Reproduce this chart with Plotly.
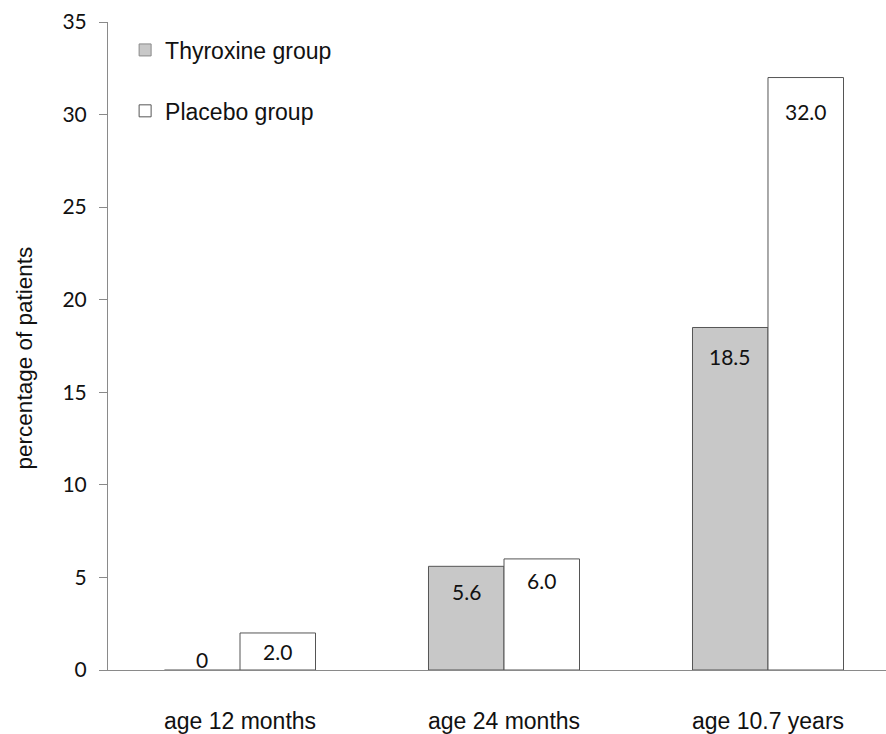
import plotly.graph_objects as go

# Share of patients at each follow-up, by treatment arm
categories = ["age 12 months", "age 24 months", "age 10.7 years"]
thyroxine = [0.0, 5.6, 18.5]
placebo = [2.0, 6.0, 32.0]
series_names = ["Thyroxine group", "Placebo group"]
y_ticks = [0, 5, 10, 15, 20, 25, 30, 35]
y_title = "percentage of patients"

# Styling
BAR_GAP = 0.428
FILL = {"Thyroxine group": "#c8c8c8", "Placebo group": "#ffffff"}
EDGE = "#555555"
AXIS = "#8a8a8a"
SANS = "Arial, 'Liberation Sans', sans-serif"
LABEL_FONT = "Lato, Calibri, Carlito, sans-serif"
# vertical drop (px) of each value label from the top of its bar
label_drop = {"Thyroxine group": [-11, 25, 29], "Placebo group": [19, 22, 34]}


def fmt(v):
    return "0" if v == 0 else f"{v:.1f}"


fig = go.Figure()
for name, vals in zip(series_names, [thyroxine, placebo]):
    # a zero-height bar collapses onto the axis, so outline it in the axis colour
    edge_colors = [AXIS if v == 0 else EDGE for v in vals]
    fig.add_trace(go.Bar(
        name=name, x=categories, y=vals,
        marker=dict(color=FILL[name], line=dict(color=edge_colors, width=1)),
        legendgroup=name,
    ))

# value labels centred over each bar of the group
half = (1 - BAR_GAP) / 4
for k, (name, vals) in enumerate(zip(series_names, [thyroxine, placebo])):
    for i, v in enumerate(vals):
        fig.add_annotation(
            x=i + (-half if k == 0 else half), y=v, xref="x", yref="y",
            text=fmt(v), showarrow=False, yanchor="middle",
            yshift=-label_drop[name][i],
            font=dict(family=LABEL_FONT, size=21, color="#111111"),
        )

# vertical axis title
fig.add_annotation(
    x=-0.107, y=0.482, xref="paper", yref="paper",
    text=y_title, textangle=-90, showarrow=False,
    xanchor="center", yanchor="middle",
    font=dict(family=SANS, size=22.5, color="#111111"),
)

fig.update_layout(
    width=886, height=734,
    margin=dict(l=108, r=0, t=22, b=62),
    paper_bgcolor="white", plot_bgcolor="white",
    barmode="group", bargap=BAR_GAP, bargroupgap=0,
    showlegend=True,
    legend=dict(
        x=0.022, y=0.99, xanchor="left", yanchor="top",
        font=dict(family=SANS, size=23, color="#111111"),
        bgcolor="rgba(0,0,0,0)", tracegroupgap=28,
        itemwidth=30,
    ),
)
fig.update_xaxes(
    type="category", range=[-0.5, 2.447],
    showline=True, linecolor=AXIS, linewidth=1,
    ticks="", showgrid=False, zeroline=False,
    tickfont=dict(family=SANS, size=23, color="#111111"),
    ticklabelstandoff=30,
)
fig.update_yaxes(
    range=[0, 35], tickvals=y_ticks,
    showline=True, linecolor=AXIS, linewidth=1,
    ticks="outside", ticklen=8, tickcolor=AXIS, tickwidth=1,
    showgrid=False, zeroline=False,
    tickfont=dict(family=LABEL_FONT, size=21, color="#111111"),
    ticklabelstandoff=8,
)

fig.write_html("out.html")
